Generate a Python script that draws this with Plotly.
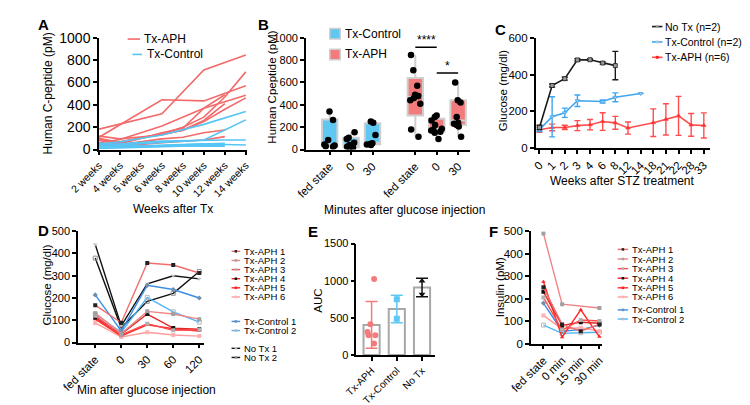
import numpy as np
import plotly.graph_objects as go

W, H = 750, 405
def px(x): return x / W
def py(y): return 1 - y / H

FONT = "Liberation Sans, Arial, sans-serif"
RED_A = "#f36a6a"
BLUE_A = "#55c5f5"

# ---------------- Panel A data ----------------
weeks_A = ["2 weeks", "4 weeks", "5 weeks", "6 weeks", "8 weeks", "10 weeks", "12 weeks", "14 weeks"]
aph_A = [
    [182, None, None, 319, None, 712, None, 846],
    [110, None, None, 445, None, 435, None, 570],
    [100, 60, None, 140, 200, 290, 470, 695],
    [80, 50, None, 150, 190, 370, 490, None],
    [60, 90, None, 210, None, 370, None, 485],
    [120, 95, None, 130, 175, 260, 410, None],
    [90, 70, None, 140, 170, 250, 360, 462],
    [55, 45, None, 95, 110, 150, 175, None],
    [40, 30, None, 60, 75, 85, 115, None],
]
ctrl_A = [
    [50, 70, None, 130, 175, 225, None, 340],
    [30, 40, None, 60, 70, 85, 175, 265],
    [45, 50, None, 75, 80, 85, 85, 85],
    [20, 25, None, 40, 45, 50, 45, 40],
    [10, 15, None, 25, 30, 35, 40, None],
    [35, 30, None, 35, 40, 45, 55, None],
    [60, 20, None, 30, 35, 30, 30, None],
]

# ---------------- Panel B data ----------------
cats_B = ["fed state", "0", "30", "fed state", "0", "30"]
pos_B_ctrl = [0, 1, 2]
pos_B_aph = [4, 5, 6]
ctrl_B_pts = [
    [340, 265, 85, 45, 35, 30, 25],
    [155, 105, 95, 60, 40, 30, 25, 20, 15],
    [250, 240, 130, 55, 50, 45, 40],
]
aph_B_pts = [
    [845, 710, 570, 490, 480, 460, 440, 410, 180, 115],
    [305, 290, 260, 220, 185, 175, 170, 160, 150, 95],
    [600, 440, 420, 290, 240, 230, 220, 205, 115],
]
ctrl_B_q1 = [30, 20, 48]
ctrl_B_med = [45, 35, 60]
ctrl_B_q3 = [268, 105, 235]
aph_B_q1 = [305, 160, 220]
aph_B_med = [470, 185, 260]
aph_B_q3 = [640, 275, 440]
sig_B = [("****", 4, 5, 915), ("*", 5, 6, 684)]

# ---------------- Panel C data ----------------
weeks_C = ["0", "1", "2", "3", "4", "6", "8", "12", "14", "18", "21", "22", "28", "33"]
notx_C = [113, 341, 378, 480, 481, 463, 449, None, None, None, None, None, None, None]
notx_C_err = [12, 8, 8, 6, 4, 6, 77, None, None, None, None, None, None, None]
ctrl_C = [101, 171, 193, 258, None, 254, 277, None, 297, None, None, None, None, None]
ctrl_C_err = [10, 109, 25, 31, None, 8, 24, None, None, None, None, None, None, None]
aph_C = [101, 113, 113, 123, 128, 145, 138, 110, None, 139, 157, 176, 127, 124]
aph_C_err = [15, 18, 12, 27, 28, 48, 35, 33, None, 75, 85, 106, 62, 68]

# ---------------- Panel D data ----------------
times_D = ["fed state", "0", "30", "60", "120"]
names_D = ["Tx-APH 1", "Tx-APH 2", "Tx-APH 3", "Tx-APH 4", "Tx-APH 5", "Tx-APH 6",
           "Tx-Control 1", "Tx-Control 2", "No Tx 1", "No Tx 2"]
vals_D = [
    [168, 89, 357, 348, 312],
    [132, 40, 140, 128, 105],
    [120, 35, 85, 55, 57],
    [112, 38, 128, 65, 60],
    [105, 30, 80, 62, 52],
    [88, 25, 46, 34, 29],
    [214, 52, 257, 238, 200],
    [128, 46, 203, 138, 92],
    [440, 75, 264, 300, 286],
    [379, 66, 185, 221, 319],
]

# ---------------- Panel E data ----------------
groups_E = ["Tx-APH", "Tx-Control", "No Tx"]
pts_E = [
    [1025, 415, 310, 265, 265, 155],
    [750, 490],
    [997, 820],
]

# ---------------- Panel F data ----------------
times_F = ["fed state", "0 min", "15 min", "30 min"]
names_F = ["Tx-APH 1", "Tx-APH 2", "Tx-APH 3", "Tx-APH 4", "Tx-APH 5", "Tx-APH 6",
           "Tx-Control 1", "Tx-Control 2"]
vals_F = [
    [250, 85, 55, 85],
    [490, 175, None, 158],
    [205, 60, 105, 100],
    [230, 80, 95, 90],
    [275, 28, 150, 30],
    [125, 65, 70, 55],
    [180, 55, 62, 82],
    [82, 45, 48, 50],
]

# styles for D/F series
line_cols = ["#f26d6d", "#f08585", "#ff4a4a", "#e02828", "#ff2a2a", "#ff9c9c",
             "#3a8ee6", "#4fb6f7", "#111111", "#111111"]
mark_cols = ["#222222", "#a0a0a0", "#b0b0b0", "#111111", "#ff2020", "#ffb0b0",
             "#6e8fb0", "#b8b8b8", "#c0c0c0", "#909090"]
mark_syms = ["square", "square", "square", "square", "triangle-up", "square",
             "diamond", "square-open", "triangle-down", "square-open"]

fig = go.Figure()

# ---------- A ----------
xA = list(range(len(weeks_A)))
for v in aph_A:
    fig.add_trace(go.Scatter(x=xA, y=v, mode="lines", line=dict(color=RED_A, width=1.6),
                             connectgaps=True, xaxis="x", yaxis="y", hoverinfo="skip"))
for v in ctrl_A:
    fig.add_trace(go.Scatter(x=xA, y=v, mode="lines", line=dict(color=BLUE_A, width=1.6),
                             connectgaps=True, xaxis="x", yaxis="y", hoverinfo="skip"))

# ---------- B ----------
CB = "#5ec8f2"
AB = "#f47b7b"
for pos, q1, med, q3, pts, col in [(pos_B_ctrl, ctrl_B_q1, ctrl_B_med, ctrl_B_q3, ctrl_B_pts, CB),
                                    (pos_B_aph, aph_B_q1, aph_B_med, aph_B_q3, aph_B_pts, AB)]:
    fig.add_trace(go.Box(x=pos, q1=q1, median=med, q3=q3,
                         lowerfence=[min(p) for p in pts], upperfence=[max(p) for p in pts],
                         fillcolor=col, line=dict(color="#cfcfcf", width=2), width=0.72,
                         whiskerwidth=0, boxpoints=False, xaxis="x2", yaxis="y2", hoverinfo="skip"))
    xs, ys = [], []
    for p, vals in zip(pos, pts):
        xs += [p] * len(vals)
        ys += vals
    fig.add_trace(go.Box(x=xs, y=ys, boxpoints="all", jitter=0.85, pointpos=0,
                         fillcolor="rgba(0,0,0,0)", line=dict(color="rgba(0,0,0,0)", width=0),
                         marker=dict(color="black", size=6.5), width=0.72,
                         xaxis="x2", yaxis="y2", hoverinfo="skip"))
for txt, a, b, yv in sig_B:
    fig.add_shape(type="line", xref="x2", yref="y2", x0=a, x1=b, y0=yv, y1=yv,
                  line=dict(color="black", width=1.5))
    fig.add_annotation(xref="x2", yref="y2", x=(a + b) / 2, y=yv, text=txt, showarrow=False,
                       yanchor="bottom", font=dict(size=12, color="black"), yshift=-2)

# ---------- C ----------
xC = list(range(len(weeks_C)))
for vals, err, col, sym, msz, mcol in [
        (aph_C, aph_C_err, "#ff4d4d", "triangle-up", 4, "#ff2020"),
        (ctrl_C, ctrl_C_err, "#3ea6f0", "triangle-down", 4, "#a8c8e0"),
        (notx_C, notx_C_err, "#1a1a1a", "square", 4, "#9a9a9a")]:
    fig.add_trace(go.Scatter(x=xC, y=vals, mode="lines+markers", connectgaps=True,
                             line=dict(color=col, width=1.6),
                             marker=dict(symbol=sym, size=msz, color=mcol, line=dict(color=col, width=0.8)),
                             error_y=dict(type="data", array=err, visible=True, color=col,
                                          thickness=1.4, width=3),
                             xaxis="x3", yaxis="y3", hoverinfo="skip"))

# ---------- D ----------
xD = list(range(len(times_D)))
for i in range(len(vals_D) - 1, -1, -1):
    fig.add_trace(go.Scatter(x=xD, y=vals_D[i], mode="lines+markers",
                             line=dict(color=line_cols[i], width=1.4),
                             marker=dict(symbol=mark_syms[i], size=4, color=mark_cols[i]),
                             xaxis="x4", yaxis="y4", hoverinfo="skip"))

# ---------- E ----------
means_E = [float(np.mean(p)) for p in pts_E]
sds_E = [float(np.std(p, ddof=1)) for p in pts_E]
err_cols_E = ["#f47b7b", "#5ec8f2", "#111111"]
fig.add_trace(go.Bar(x=[0, 1, 2], y=means_E, width=0.64, marker=dict(color="white",
                     line=dict(color="#a8a8a8", width=2)), xaxis="x5", yaxis="y5", hoverinfo="skip"))
for i in range(3):
    fig.add_trace(go.Scatter(x=[i], y=[means_E[i]], mode="markers", marker=dict(size=1, opacity=0),
                             error_y=dict(type="data", array=[sds_E[i]], color=err_cols_E[i],
                                          thickness=1.5, width=6),
                             xaxis="x5", yaxis="y5", hoverinfo="skip"))
fig.add_trace(go.Box(x=[0] * len(pts_E[0]), y=pts_E[0], boxpoints="all", jitter=0.6, pointpos=0,
                     fillcolor="rgba(0,0,0,0)", line=dict(color="rgba(0,0,0,0)", width=0),
                     marker=dict(color="#f47b7b", size=6), width=0.64,
                     xaxis="x5", yaxis="y5", hoverinfo="skip"))
fig.add_trace(go.Scatter(x=[1] * len(pts_E[1]), y=pts_E[1], mode="markers",
                         marker=dict(symbol="square", color="#5ec8f2", size=6),
                         xaxis="x5", yaxis="y5", hoverinfo="skip"))
fig.add_trace(go.Scatter(x=[2] * len(pts_E[2]), y=pts_E[2], mode="markers",
                         marker=dict(symbol=["triangle-up", "triangle-down"], color="#111111", size=6),
                         xaxis="x5", yaxis="y5", hoverinfo="skip"))

# ---------- F ----------
xF = list(range(len(times_F)))
for i in range(len(vals_F) - 1, -1, -1):
    fig.add_trace(go.Scatter(x=xF, y=vals_F[i], mode="lines+markers", connectgaps=True,
                             line=dict(color=line_cols[i], width=1.4),
                             marker=dict(symbol=mark_syms[i], size=4, color=mark_cols[i]),
                             xaxis="x6", yaxis="y6", hoverinfo="skip"))

# ---------- axes ----------
def ax(size=12):
    return dict(showline=True, linecolor="black", linewidth=1.6, ticks="outside", ticklen=4,
                tickwidth=1.5, tickcolor="black", showgrid=False, zeroline=False,
                tickfont=dict(size=size, color="black", family=FONT), fixedrange=True)

def dom_x(a, b): return [px(a), px(b)]
def dom_y(top, bot): return [py(bot), py(top)]

fig.update_layout(
    xaxis=dict(ax(10.5), domain=dom_x(63, 218), anchor="y", range=[0, 7.05], tickmode="array",
               tickvals=xA, ticktext=weeks_A, tickangle=-45),
    yaxis=dict(ax(14), domain=dom_y(22.7, 139), anchor="x", range=[0, 1000], dtick=200),
    xaxis2=dict(ax(11.5), domain=dom_x(280, 452), anchor="y2", range=[-1.11, 6.55], tickmode="array",
                tickvals=pos_B_ctrl + pos_B_aph, ticktext=cats_B, tickangle=-45),
    yaxis2=dict(ax(11), domain=dom_y(22.7, 139), anchor="x2", range=[0, 1000], dtick=200),
    xaxis3=dict(ax(11.5), domain=dom_x(521, 704), anchor="y3", range=[-0.3, 13.5], tickmode="array",
                tickvals=xC, ticktext=weeks_C, tickangle=-45),
    yaxis3=dict(ax(11.5), domain=dom_y(22.7, 137.7), anchor="x3", range=[0, 600], dtick=200),
    xaxis4=dict(ax(11.5), domain=dom_x(41, 173), anchor="y4", range=[-0.66, 4.18], tickmode="array",
                tickvals=xD, ticktext=times_D, tickangle=-45),
    yaxis4=dict(ax(11), domain=dom_y(224, 340), anchor="x4", range=[0, 500], dtick=100),
    xaxis5=dict(ax(10), domain=dom_x(333, 415), anchor="y5", range=[-0.6, 2.5], tickmode="array",
                tickvals=[0, 1, 2], ticktext=groups_E, tickangle=-45),
    yaxis5=dict(ax(11), domain=dom_y(237, 353), anchor="x5", range=[0, 1500], dtick=500),
    xaxis6=dict(ax(11.5), domain=dom_x(516, 591), anchor="y6", range=[-0.67, 3.16], tickmode="array",
                tickvals=xF, ticktext=times_F, tickangle=-45),
    yaxis6=dict(ax(11.5), domain=dom_y(224, 341), anchor="x6", range=[0, 500], dtick=100),
)

# ---------- text helpers ----------
def text(x, y, s, size=12, angle=0, anchor="center", bold=False):
    fig.add_annotation(xref="paper", yref="paper", x=px(x), y=py(y), text=(f"<b>{s}</b>" if bold else s),
                       showarrow=False, xanchor=anchor, yanchor="middle", textangle=angle,
                       borderpad=0, font=dict(size=size, color="black", family=FONT))

def hline(x0, x1, y, col, w=1.6):
    fig.add_shape(type="line", xref="paper", yref="paper", x0=px(x0), x1=px(x1), y0=py(y), y1=py(y),
                  line=dict(color=col, width=w))

def sq(x, y, col, s=3):
    fig.add_shape(type="rect", xref="paper", yref="paper", x0=px(x - s / 2), x1=px(x + s / 2),
                  y0=py(y + s / 2), y1=py(y - s / 2), line=dict(width=0), fillcolor=col)

# panel letters
for L, x, y in [("A", 5, 9), ("B", 235, 9), ("C", 484, 14), ("D", 5, 223), ("E", 287, 224), ("F", 477, 224)]:
    text(x, y, L, size=15, bold=True)

# axis titles
text(9, 81, "Human C-peptide (pM)", 12, -90)
text(141, 201, "Weeks after Tx", 12)
text(245, 74, "Human Cpeptide (pM)", 11.5, -90)
text(383, 202, "Minutes after glucose injection", 12)
text(487, 78, "Glucose (mg/dl)", 11.5, -90)
text(612, 172, "Weeks after STZ treatment", 12)
text(8, 280, "Glucose (mg/dl)", 11.5, -90)
text(113, 389, "Min after glucose injection", 12)
text(293, 296, "AUC", 11.5, -90)
text(483, 282, "Insulin (pM)", 11.5, -90)

# legend A
hline(93, 106, 24, RED_A); text(109, 24, "Tx-APH", 12, anchor="left")
hline(98, 108, 40, BLUE_A); text(112, 40, "Tx-Control", 12, anchor="left")

# legend B
for (lab, col, yc) in [("Tx-Control", CB, 18.5), ("Tx-APH", AB, 40)]:
    fig.add_shape(type="rect", xref="paper", yref="paper", x0=px(305), x1=px(316), y0=py(yc + 5.5),
                  y1=py(yc - 5.5), fillcolor=col, line=dict(color="#cfcfcf", width=1.5))
    text(320, yc, lab, 12, anchor="left")

# legend C
for (lab, col, mcol, yc) in [("No Tx (n=2)", "#1a1a1a", "#9a9a9a", 11),
                             ("Tx-Control (n=2)", "#3ea6f0", "#a8c8e0", 27),
                             ("Tx-APH (n=6)", "#ff4d4d", "#ff2020", 43)]:
    hline(643, 654, yc, col); sq(648.5, yc, mcol, 3)
    text(656, yc, lab, 10.5, anchor="left")

# legend D
ys_D = [245, 254.5, 264, 273.5, 283, 292.5, 318, 327.5, 346, 355.5]
for i, yc in enumerate(ys_D):
    hline(202, 211, yc, line_cols[i], 1.4); sq(206.5, yc, mark_cols[i], 2.6)
    text(214, yc, names_D[i], 9.5, anchor="left")

# legend F
ys_F = [243, 253, 263, 273, 283, 292.5, 306, 315.5]
for i, yc in enumerate(ys_F):
    hline(607, 618, yc, line_cols[i], 1.4); sq(612.5, yc, mark_cols[i], 2.6)
    text(621, yc, names_F[i], 9.5, anchor="left")

fig.update_layout(width=W, height=H, margin=dict(l=0, r=0, t=0, b=0), showlegend=False,
                  paper_bgcolor="white", plot_bgcolor="white", barmode="overlay", boxmode="overlay",
                  font=dict(family=FONT, color="black"))

fig.write_html("out.html")
